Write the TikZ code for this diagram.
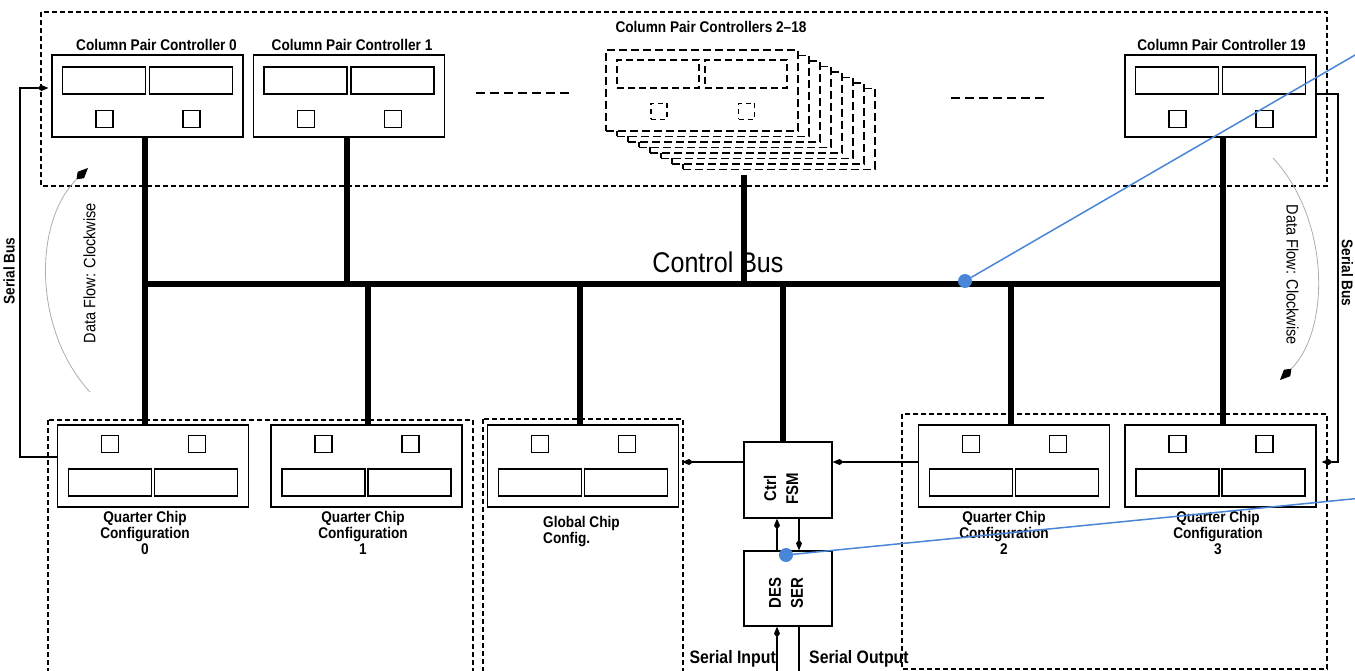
\documentclass[tikz,border=0pt]{standalone}
\usepackage{fontspec}
\setmainfont{Liberation Sans}
\newfontfamily\nar[FakeStretch=0.88]{Liberation Sans}
\usetikzlibrary{arrows.meta}
\definecolor{annblue}{RGB}{74,134,216}
\begin{document}
\begin{tikzpicture}[x=1pt,y=-1pt,
 mainbox/.style={draw, line width=1.3pt, fill=white, minimum width=191pt, minimum height=82pt, inner sep=0pt},
 subrect/.style={draw, line width=1.1pt, minimum width=83pt, minimum height=27pt, inner sep=0pt},
 subsq/.style={draw, line width=1.1pt, minimum width=17pt, minimum height=17pt, inner sep=0pt},
 dbox/.style={draw, dash pattern=on 8pt off 4pt, line width=1.1pt, fill=white, minimum width=192pt, minimum height=81pt, inner sep=0pt},
 dsubrect/.style={draw, dash pattern=on 7pt off 4pt, line width=1.1pt, minimum width=82pt, minimum height=28pt, inner sep=0pt},
 dsubsq/.style={draw, dash pattern=on 5pt off 4pt, line width=1.1pt, minimum width=16pt, minimum height=16pt, inner sep=0pt},
 plainbox/.style={draw, line width=1.3pt, fill=white, inner sep=0pt},
 container/.style={draw, dash pattern=on 5pt off 3pt, line width=1.1pt},
 ellip/.style={dash pattern=on 9pt off 5pt, line width=1.1pt},
 bus/.style={line width=6.5pt},
 sline/.style={line width=1.2pt},
 sarrow/.style={sline, -{Kite[length=11pt,width=6pt,inset=4pt]}},
 flow/.style={draw=gray!65, line width=0.8pt, -{Kite[length=16pt,width=9pt,inset=6pt,color=black]}},
 lab/.style={inner sep=0pt, font=\nar\bfseries\fontsize{15.5pt}{16pt}\selectfont},
 biglab/.style={inner sep=0pt, font=\nar\fontsize{28.5pt}{30pt}\selectfont},
 flowlab/.style={inner sep=0pt, font=\nar\fontsize{16.5pt}{18pt}\selectfont},
 blklab/.style={inner sep=0pt, align=center, font=\nar\bfseries\fontsize{17pt}{22pt}\selectfont},
 iolab/.style={inner sep=0pt, font=\nar\bfseries\fontsize{18pt}{20pt}\selectfont},
 annot/.style={draw=annblue, line width=1.5pt},
 anndot/.style={circle, fill=annblue, inner sep=0pt, minimum size=14pt},
 pics/cpcbox/.style={code={
   \node[mainbox] (-box) at (0,0) {};
   \node[subrect] (-r1) at (-43.5,-15.5) {};
   \node[subrect] (-r2) at (43.5,-15.5) {};
   \node[subsq] (-s1) at (-43,23) {};
   \node[subsq] (-s2) at (44,23) {};
 }},
 pics/qccbox/.style={code={
   \node[mainbox] (-box) at (0,0) {};
   \node[subsq] (-s1) at (-43,-22) {};
   \node[subsq] (-s2) at (44,-22) {};
   \node[subrect] (-r1) at (-43,16.5) {};
   \node[subrect] (-r2) at (43,16.5) {};
 }},
 pics/stackbox/.style={code={
   \node[dbox] (-box) at (0,0) {};
   \node[dsubrect] (-r1) at (-44,-16.5) {};
   \node[dsubrect] (-r2) at (44,-16.5) {};
   \node[dsubsq] (-s1) at (-43,21) {};
   \node[dsubsq] (-s2) at (44.5,21) {};
 }},
]
\useasboundingbox (0,0) rectangle (1355,671);

% containers
\draw[container] (41,12) rectangle (1327,186);
\draw[container] (48,420) rectangle (473,690);
\draw[container] (483,419) rectangle (683,690);
\draw[container] (902,414) rectangle (1327,669);

% column pair controllers
\pic (cpc0) at (147.5,96) {cpcbox};
\pic (cpc1) at (349,96) {cpcbox};
\pic (cpc19) at (1220.5,96) {cpcbox};
\node[lab, anchor=base] (cpc0-l) at (156.5,51) {Column Pair Controller 0};
\node[lab, anchor=base] (cpc1-l) at (352,51) {Column Pair Controller 1};
\node[lab, anchor=base] (cpc19-l) at (1221.5,51) {Column Pair Controller 19};

% stack of controllers 2-18
\foreach \k in {7,6,...,1} {
  \node[dbox] (stack-b\k) at (702+11*\k, 90.5+5.5*\k) {};
}
\pic (stack) at (702,90.5) {stackbox};
\node[lab, anchor=base] (stack-l) at (711,33) {Column Pair Controllers 2–18};

% ellipsis lines
\coordinate (el1a) at (476,93); \coordinate (el1b) at (570,93);
\coordinate (el2a) at (951,98); \coordinate (el2b) at (1044,98);
\draw[ellip] (el1a) -- (el1b);
\draw[ellip] (el2a) -- (el2b);

% quarter chip configurations and global
\pic (qcc0) at (153,466) {qccbox};
\pic (qcc1) at (366.5,466) {qccbox};
\pic (gcc) at (583,466) {qccbox};
\pic (qcc2) at (1014,466) {qccbox};
\pic (qcc3) at (1220.5,466) {qccbox};
\node[lab, align=center, anchor=north] (qcc0-l) at (145,511) {Quarter Chip\\Configuration\\0};
\node[lab, align=center, anchor=north] (qcc1-l) at (363,511) {Quarter Chip\\Configuration\\1};
\node[lab, align=center, anchor=north] (qcc2-l) at (1004,511) {Quarter Chip\\Configuration\\2};
\node[lab, align=center, anchor=north] (qcc3-l) at (1218,511) {Quarter Chip\\Configuration\\3};
\node[lab, align=left, anchor=north west] (gcc-l) at (543,516) {Global Chip\\Config.};

% FSM and DES/SER
\node[plainbox, minimum width=88pt, minimum height=76pt] (fsm) at (788,480) {};
\node[blklab, rotate=90] (fsm-t) at (781,488.5) {Ctrl\\FSM};
\node[plainbox, minimum width=88pt, minimum height=75pt] (des) at (788,588.5) {};
\node[blklab, rotate=90] (des-t) at (786,593) {DES\\SER};

% control bus
\coordinate (busL) at (145,284);
\coordinate (busR) at (1223,284);
\coordinate (stackbar) at (744,175);
\draw[bus] (busL) -- (busR);
\draw[bus] (cpc0-box.south -| busL) -- (qcc0-box.north -| busL);
\draw[bus] (cpc19-box.south -| busR) -- (qcc3-box.north -| busR);
\draw[bus] ([xshift=-2pt]cpc1-box.south) -- ([xshift=-2pt]cpc1-box.south |- busL);
\draw[bus] (stackbar) -- (stackbar |- busL);
\draw[bus] ([xshift=1.5pt]qcc1-box.north) -- ([xshift=1.5pt]qcc1-box.north |- busL);
\draw[bus] ([xshift=-3pt]gcc-box.north) -- ([xshift=-3pt]gcc-box.north |- busL);
\draw[bus] ([xshift=-5pt]fsm.north) -- ([xshift=-5pt]fsm.north |- busL);
\draw[bus] ([xshift=-3pt]qcc2-box.north) -- ([xshift=-3pt]qcc2-box.north |- busL);
\node[biglab] (bus-l) at (718,262) {Control Bus};

% serial connections
\draw[sarrow] ([yshift=18pt]fsm.west) -- ([yshift=4pt,xshift=3pt]gcc-box.east);
\draw[sarrow] ([yshift=4pt]qcc2-box.west) -- ([yshift=18pt]fsm.east);
\draw[sarrow] ([xshift=-11pt]des.north) -- ([xshift=-11pt]fsm.south);
\draw[sarrow] ([xshift=11pt]fsm.south) -- ([xshift=11pt]des.north);
\coordinate (sin) at (777,680);
\coordinate (sout) at (799,680);
\draw[sarrow] (sin) -- ([xshift=-11pt]des.south);
\draw[sline] ([xshift=11pt]des.south) -- (sout);
\node[iolab, anchor=base east] (sin-l) at (776,663) {Serial Input};
\node[iolab, anchor=base west] (sout-l) at (809,663) {Serial Output};

% serial bus loop
\coordinate (sbL) at (20,270);
\coordinate (sbR) at (1338,270);
\draw[sarrow] ([yshift=9pt]qcc0-box.west) -| (sbL) |- ([yshift=8pt,xshift=-3pt]cpc0-box.west);
\draw[sarrow] ([yshift=2pt]cpc19-box.east) -| (sbR) |- ([yshift=4pt,xshift=5pt]qcc3-box.east);
\node[lab, rotate=90] (sbL-l) at (9,271) {Serial Bus};
\node[lab, rotate=-90] (sbR-l) at (1347.5,273) {Serial Bus};

% data flow arcs
\coordinate (fL1) at (90,392); \coordinate (fL2) at (88,168);
\coordinate (fR1) at (1273,158); \coordinate (fR2) at (1280,380);
\draw[flow] (fL1) .. controls (33,330) and (33,222) .. (fL2);
\draw[flow] (fR1) .. controls (1330.5,220) and (1330.5,330) .. (fR2);
\node[flowlab, rotate=90] (fL-l) at (89.5,273) {Data Flow: Clockwise};
\node[flowlab, rotate=-90] (fR-l) at (1292.5,275) {Data Flow: Clockwise};

% blue annotations
\node[anndot] (ann1) at (965,281) {};
\coordinate (ann1e) at (1362,51);
\draw[annot] (ann1) -- (ann1e);
\node[anndot] (ann2) at (786,555) {};
\coordinate (ann2e) at (1362,498);
\draw[annot] (ann2) -- (ann2e);
\end{tikzpicture}
\end{document}
